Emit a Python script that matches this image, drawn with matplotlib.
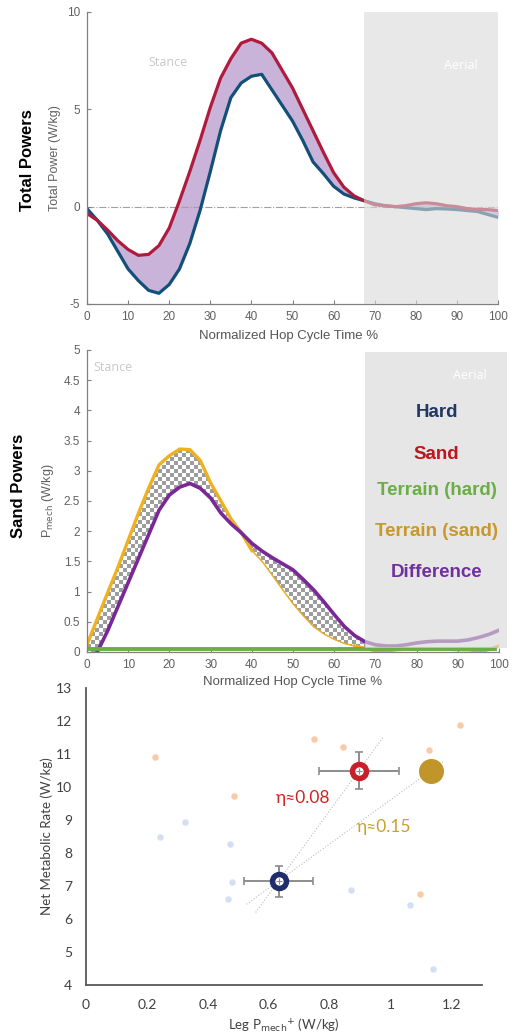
import numpy as np
import matplotlib
matplotlib.use("Agg")
import matplotlib.pyplot as plt
from matplotlib.patches import PathPatch, Rectangle

W, H = 519, 1034
plt.rcParams['font.family'] = ['Liberation Sans', 'DejaVu Sans']
plt.rcParams['axes.unicode_minus'] = False

# ---- total powers (W/kg) over the hop cycle ----
pct = np.arange(0, 101, 2.5)
hard_total = [-0.1, -0.7, -1.4, -2.3, -3.2, -3.8, -4.3, -4.45, -4.0, -3.2, -1.9,
              -0.2, 1.8, 3.9, 5.6, 6.35, 6.7, 6.8, 6.0, 5.2, 4.4, 3.4, 2.3, 1.7,
              1.05, 0.65, 0.45, 0.3, 0.15, 0.05, 0.0, -0.05, -0.1, -0.15, -0.1,
              -0.12, -0.15, -0.2, -0.25, -0.4, -0.55]
sand_total = [-0.35, -0.7, -1.2, -1.75, -2.2, -2.5, -2.45, -2.0, -1.1, 0.3, 1.8,
              3.4, 5.1, 6.6, 7.6, 8.4, 8.6, 8.4, 7.9, 7.0, 6.1, 5.0, 3.9, 2.8,
              1.75, 1.0, 0.55, 0.3, 0.1, 0.05, 0.0, 0.05, 0.15, 0.2, 0.15, 0.05,
              0.0, -0.1, -0.15, -0.15, -0.2]

# ---- sand powers (W/kg) ----
terrain_sand = [0.12, 0.55, 0.98, 1.4, 1.85, 2.3, 2.72, 3.1, 3.25, 3.36, 3.35,
                3.17, 2.8, 2.5, 2.2, 1.97, 1.68, 1.5, 1.27, 1.03, 0.8, 0.6, 0.42,
                0.3, 0.21, 0.14, 0.1, 0.06, 0.02, 0.0, -0.02, -0.03, -0.03, -0.03,
                -0.03, -0.03, -0.02, -0.02, 0.0, 0.04, 0.1]
difference = [-0.15, 0.0, 0.35, 0.75, 1.15, 1.55, 1.95, 2.35, 2.6, 2.73, 2.79,
              2.71, 2.55, 2.3, 2.12, 1.97, 1.8, 1.67, 1.56, 1.46, 1.36, 1.2, 1.03,
              0.83, 0.62, 0.42, 0.27, 0.17, 0.12, 0.1, 0.1, 0.12, 0.15, 0.17,
              0.18, 0.18, 0.18, 0.2, 0.24, 0.29, 0.36]
terrain_hard_level = 0.05
stance_end = 67.5

# ---- metabolic rate vs leg mechanical power ----
sand_subj_x = [0.227, 0.749, 0.845, 1.227, 1.127, 0.486, 1.097]
sand_subj_y = [10.91, 11.44, 11.21, 11.89, 11.13, 9.73, 6.76]
hard_subj_x = [0.325, 0.243, 0.473, 0.478, 0.466, 0.870, 1.063, 1.138]
hard_subj_y = [8.93, 8.50, 8.27, 7.13, 6.62, 6.89, 6.42, 4.47]
hard_mean = (0.632, 7.15)
hard_err = (0.113, 0.47)
sand_mean = (0.896, 10.50)
sand_err = (0.132, 0.55)
terrain_sand_mean = (1.131, 10.49)


def box(left, top, right, bottom):
    return [left / W, 1 - bottom / H, (right - left) / W, (bottom - top) / H]


def style_matlab(ax):
    for s in ['top', 'right']:
        ax.spines[s].set_visible(False)
    for s in ['left', 'bottom']:
        ax.spines[s].set_color('#808080')
        ax.spines[s].set_linewidth(0.9)
    ax.tick_params(direction='in', length=3, width=0.8, color='#808080',
                   labelcolor='#606060', labelsize=8.5, pad=5)


fig = plt.figure(figsize=(W / 100, H / 100), dpi=100)

# ================= Total powers =================
ax1 = fig.add_axes(box(87, 12, 498, 304))
style_matlab(ax1)
ax1.fill_between(pct, hard_total, sand_total, color='#c9b3d9', lw=0, zorder=1)
ax1.axhline(0, color='#a0a0a0', lw=0.8, ls='-.', zorder=1.5)
ax1.plot(pct, hard_total, color='#12507a', lw=2.3, zorder=2)
ax1.plot(pct, sand_total, color='#b01a3c', lw=2.3, zorder=2.1)
ax1.axvspan(stance_end, 100, color='#d9d9d9', alpha=0.6, lw=0, zorder=3)
ax1.set_xlim(0, 100)
ax1.set_ylim(-5, 10)
ax1.set_xticks(range(0, 101, 10))
ax1.set_yticks([-5, 0, 5, 10])
ax1.text(19.7, 7.43, 'Stance', color='#c8c8c8', fontsize=9, family='Open Sans',
         ha='center', va='center')
ax1.text(91, 7.23, 'Aerial', color='white', fontsize=9, family='Open Sans',
         ha='center', va='center', zorder=4)
ax1.text(0.49, -0.11, 'Normalized Hop Cycle Time %', transform=ax1.transAxes,
         ha='center', va='center', fontsize=9.5, color='#555555')
ax1.text(-0.078, 0.5, 'Total Power (W/kg)', transform=ax1.transAxes, rotation=90,
         ha='center', va='center', fontsize=9, color='#606060')
fig.text(28 / W, 1 - 160 / H, 'Total Powers', rotation=90, ha='center', va='center',
         fontsize=12, fontweight='bold')

# ================= Sand powers =================
ax2 = fig.add_axes(box(87, 350, 499, 652))
style_matlab(ax2)
x_fill = pct[pct <= stance_end]
n = len(x_fill)
band = ax2.fill_between(x_fill, terrain_sand[:n], difference[:n], color='none', lw=0)
outline = PathPatch(band.get_paths()[0], transform=ax2.transData, facecolor='none',
                    edgecolor='#8c8c8c', lw=0.6, zorder=1.2)
ax2.add_patch(outline)
cells = np.indices((76, 104)).sum(axis=0) % 2
checker = ax2.imshow(cells, extent=(0, 100, 0, 5), aspect='auto', cmap='gray',
                     vmin=-1.6, vmax=1, interpolation='nearest', zorder=1)
checker.set_clip_path(outline)

ts = np.array(terrain_sand)
ax2.plot(pct, np.where(pct <= 40, ts, np.nan), color='#f0b020', lw=2.4, zorder=2)
ax2.plot(pct, np.where(pct >= 65, ts, np.nan), color='#f0b020', lw=2.4, zorder=2)
ax2.plot(pct, np.where((pct >= 37.5) & (pct <= stance_end), ts, np.nan),
         color='#f0b020', lw=1.0, zorder=2)
ax2.plot(pct, difference, color='#7a2898', lw=2.6, zorder=2.2)
ax2.plot([0, 99], [terrain_hard_level] * 2, color='#6aae45', lw=2.8, zorder=2.4)
ax2.add_patch(Rectangle((stance_end, 0.07), 102 - stance_end, 4.9, color='#d9d9d9',
                        alpha=0.65, lw=0, zorder=3, clip_on=False))
ax2.set_xlim(0, 100)
ax2.set_ylim(0, 5)
ax2.set_xticks(range(0, 101, 10))
ax2.set_yticks(np.arange(0, 5.01, 0.5))
ax2.set_yticklabels(['0', '0.5', '1', '1.5', '2', '2.5', '3', '3.5', '4', '4.5', '5'])
ax2.text(6.4, 4.71, 'Stance', color='#c8c8c8', fontsize=9, family='Open Sans',
         ha='center', va='center')
ax2.text(93, 4.57, 'Aerial', color='white', fontsize=9, family='Open Sans',
         ha='center', va='center', zorder=4)
legend_items = [('Hard', '#1f3864', 3.97), ('Sand', '#c0141e', 3.27),
                ('Terrain (hard)', '#6aae45', 2.67), ('Terrain (sand)', '#c9972a', 1.99),
                ('Difference', '#7030a0', 1.32)]
for label, col, yy in legend_items:
    ax2.text(84.9, yy, label, color=col, fontsize=13.5, fontweight='bold',
             ha='center', va='center', zorder=5)
ax2.text(0.5, -0.1, 'Normalized Hop Cycle Time %', transform=ax2.transAxes,
         ha='center', va='center', fontsize=9.5, color='#555555')
ax2.text(-0.095, 0.5, r'P$_{\mathrm{mech}}$ (W/kg)', transform=ax2.transAxes,
         rotation=90, ha='center', va='center', fontsize=9, color='#606060')
fig.text(19 / W, 1 - 486 / H, 'Sand Powers', rotation=90, ha='center', va='center',
         fontsize=12, fontweight='bold')

# ================= Metabolic rate scatter =================
ax3 = fig.add_axes(box(86, 688, 482, 985))
for s in ['top', 'right']:
    ax3.spines[s].set_visible(False)
for s in ['left', 'bottom']:
    ax3.spines[s].set_color('#595959')
    ax3.spines[s].set_linewidth(1.3)
ax3.tick_params(length=0, labelsize=10, labelcolor='#404040', pad=10)

ax3.scatter(sand_subj_x, sand_subj_y, s=22, color='#f9caa8', lw=0, zorder=2)
ax3.scatter(hard_subj_x, hard_subj_y, s=22, color='#d3e0f3', lw=0, zorder=2)

# dotted lines from the hard mean through each sand mean
for end, back, ahead in [(sand_mean, 0.075, 0.08), (terrain_sand_mean, 0.105, 0.04)]:
    slope = (end[1] - hard_mean[1]) / (end[0] - hard_mean[0])
    xs = np.array([hard_mean[0] - back, end[0] + ahead])
    ax3.plot(xs, hard_mean[1] + slope * (xs - hard_mean[0]), color='#bdbdbd',
             lw=0.8, ls=':', zorder=1)

for (mx, my), (ex, ey), col in [(hard_mean, hard_err, '#1f2d6b'),
                                (sand_mean, sand_err, '#c8202a')]:
    ax3.errorbar(mx, my, xerr=ex, yerr=ey, fmt='none', ecolor='#8c8c8c',
                 elinewidth=1.4, capsize=3, capthick=1.2, zorder=3)
    ax3.plot(mx, my, 'o', ms=13, color=col, mec=col, zorder=4)
    ax3.plot(mx, my, 'o', ms=5, color='white', mec='white', zorder=5)
    ax3.plot(mx, my, '+', ms=4, color='#8c8c8c', mew=0.8, zorder=6)
ax3.plot(*terrain_sand_mean, 'o', ms=17, color='#c0962a', mec='#c0962a', zorder=4)

ax3.text(0.712, 9.68, 'η≈0.08', color='#d42020', fontsize=12.5, family='Lato',
         ha='center', va='center')
ax3.text(0.978, 8.8, 'η≈0.15', color='#c9a030', fontsize=12.5, family='Lato',
         ha='center', va='center')

ax3.set_xlim(0, 1.3)
ax3.set_ylim(4, 13)
ax3.set_xticks([0, 0.2, 0.4, 0.6, 0.8, 1.0, 1.2])
ax3.set_xticklabels(['0', '0.2', '0.4', '0.6', '0.8', '1', '1.2'], family='Lato')
ax3.set_yticks(range(4, 14))
ax3.set_yticklabels([str(v) for v in range(4, 14)], family='Lato')
ax3.text(0.5, -0.135, r'Leg P$_{\mathrm{mech}}$$^{+}$ (W/kg)', transform=ax3.transAxes,
         ha='center', va='center', fontsize=9.5, color='#404040', family='Lato')
ax3.text(-0.098, 0.5, 'Net Metabolic Rate (W/kg)', transform=ax3.transAxes,
         rotation=90, ha='center', va='center', fontsize=9.5, color='#404040',
         family='Lato')

fig.savefig('out.png', dpi=100)
